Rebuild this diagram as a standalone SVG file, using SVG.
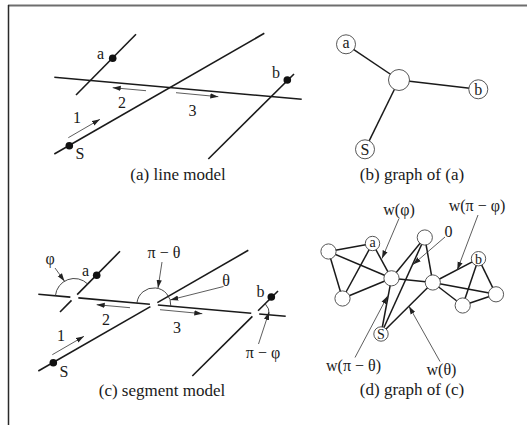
<svg xmlns="http://www.w3.org/2000/svg" width="527" height="425" viewBox="0 0 527 425">
<style>
text{font-family:"Liberation Serif","Times New Roman",serif;fill:#1a1a1a}
.cap{font-size:17px;text-anchor:middle}
.lbl{font-size:16px}
.nl{font-size:16px;text-anchor:middle}
.dl{font-size:14px;text-anchor:middle}
.ln{stroke:#1a1a1a;stroke-width:1.6;fill:none;stroke-linecap:butt}
.ed{stroke:#1a1a1a;stroke-width:1.5;fill:none}
.ar{stroke:#333;stroke-width:0.8;fill:none;marker-end:url(#ah)}
.arc{stroke:#333;stroke-width:0.9;fill:none}
.dot{fill:#111}
.nd{fill:#fff;stroke:#444;stroke-width:0.9}
</style>
<defs>
<marker id="ah" markerUnits="userSpaceOnUse" markerWidth="9" markerHeight="6" refX="8" refY="3" orient="auto">
<path d="M0,0.4 L8,3 L0,5.6 z" fill="#222"/>
</marker>
</defs>
<rect width="527" height="425" fill="#fff"/>
<g id="frame">
<line x1="8" y1="5.5" x2="527" y2="5.5" stroke="#6e6e6e" stroke-width="2"/>
<line x1="8.5" y1="5" x2="8.5" y2="425" stroke="#2a2a2a" stroke-width="1.5"/>
</g>

<!-- (a) line model -->
<g id="panel-a">
<g id="a-lines">
<line class="ln" x1="54.3" y1="77.3" x2="301.7" y2="99.3"/>
<line class="ln" x1="76" y1="95" x2="136" y2="34.3"/>
<line class="ln" x1="54.3" y1="154" x2="264.3" y2="33.3"/>
<line class="ln" x1="208.3" y1="159" x2="294" y2="74"/>
</g>
<g id="a-arrows">
<line class="ar" x1="68.3" y1="137.7" x2="100" y2="119.3"/>
<line class="ar" x1="146" y1="90.7" x2="112.7" y2="87.7"/>
<line class="ar" x1="176" y1="92.7" x2="218.3" y2="96.7"/>
</g>
<g id="a-dot-a"><circle class="dot" cx="112.7" cy="58.3" r="3.8"/><text class="lbl" x="97" y="58.5">a</text></g>
<g id="a-dot-S"><circle class="dot" cx="69.3" cy="145.7" r="3.8"/><text class="lbl" x="75.5" y="159">S</text></g>
<g id="a-dot-b"><circle class="dot" cx="287.3" cy="80" r="3.8"/><text class="lbl" x="272" y="78">b</text></g>
<text class="lbl" x="73" y="123">1</text>
<text class="lbl" x="118" y="107.5">2</text>
<text class="lbl" x="188.5" y="116">3</text>
<text class="cap" x="178" y="180">(a) line model</text>
</g>

<!-- (b) graph of (a) -->
<g id="panel-b">
<g id="b-edges">
<line class="ed" x1="346" y1="44.3" x2="399" y2="80"/>
<line class="ed" x1="399" y1="80" x2="478.3" y2="89.3"/>
<line class="ed" x1="399" y1="80" x2="365" y2="149.3"/>
</g>
<g id="b-node-a"><circle class="nd" cx="346" cy="44.3" r="9.5"/><text class="nl" x="346" y="48">a</text></g>
<g id="b-node-c"><circle class="nd" cx="399" cy="80" r="10.5"/></g>
<g id="b-node-b"><circle class="nd" cx="478.3" cy="89.3" r="9.5"/><text class="nl" x="478.3" y="94.5">b</text></g>
<g id="b-node-S"><circle class="nd" cx="365" cy="149.3" r="9.5"/><text class="nl" x="365" y="154.8">S</text></g>
<text class="cap" x="412" y="180">(b) graph of (a)</text>
</g>

<!-- (c) segment model -->
<g id="panel-c">
<g id="c-segments">
<line class="ln" x1="38.3" y1="294.3" x2="70.35" y2="297.15"/>
<line class="ln" x1="78.31" y1="297.85" x2="149.89" y2="304.23"/>
<line class="ln" x1="157.85" y1="304.93" x2="251.25" y2="313.24"/>
<line class="ln" x1="259.21" y1="313.94" x2="285.7" y2="316.3"/>
<line class="ln" x1="60" y1="312" x2="71.52" y2="300.34"/>
<line class="ln" x1="77.14" y1="294.66" x2="120" y2="251.3"/>
<line class="ln" x1="38.3" y1="371" x2="150.4" y2="306.57"/>
<line class="ln" x1="157.34" y1="302.59" x2="248.3" y2="250.3"/>
<line class="ln" x1="192.3" y1="376" x2="252.39" y2="316.41"/>
<line class="ln" x1="258.07" y1="310.77" x2="278" y2="291"/>
</g>
<g id="c-angles">
<path class="arc" d="M55.4,295.82 A19,19 0 0 1 87.69,283.99"/>
<path class="arc" d="M136.94,303.07 A17,17 0 0 1 170.8,306.09"/>
<path class="arc" d="M269.17,314.83 A14,14 0 0 0 265.17,303.73"/>
</g>
<g id="c-arrows">
<line class="ar" x1="52.3" y1="354.7" x2="84" y2="336.3"/>
<line class="ar" x1="130" y1="307.7" x2="96.7" y2="304.7"/>
<line class="ar" x1="160" y1="309.7" x2="202.3" y2="313.7"/>
<line class="ar" x1="55" y1="268" x2="64.5" y2="281.2"/>
<line class="ar" x1="162" y1="262" x2="158" y2="288"/>
<line class="ar" x1="223.5" y1="286.5" x2="170.3" y2="299.9"/>
<line class="ar" x1="258.5" y1="344" x2="269" y2="312"/>
</g>
<g id="c-dot-a"><circle class="dot" cx="96.7" cy="275.3" r="3.8"/><text class="lbl" x="82" y="276">a</text></g>
<g id="c-dot-S"><circle class="dot" cx="53.3" cy="362.7" r="3.8"/><text class="lbl" x="59.5" y="377">S</text></g>
<g id="c-dot-b"><circle class="dot" cx="271.3" cy="297" r="3.8"/><text class="lbl" x="256.5" y="297">b</text></g>
<text class="lbl" x="57" y="341">1</text>
<text class="lbl" x="102" y="325">2</text>
<text class="lbl" x="173" y="333">3</text>
<text class="lbl" x="50" y="264" text-anchor="middle">φ</text>
<text class="lbl" x="164" y="258" text-anchor="middle">π − θ</text>
<text class="lbl" x="226" y="285.5" text-anchor="middle">θ</text>
<text class="lbl" x="263" y="358" text-anchor="middle">π − φ</text>
<text class="cap" x="162" y="396">(c) segment model</text>
</g>

<!-- (d) graph of (c) -->
<g id="panel-d">
<g id="d-edges">
<line class="ed" x1="328.5" y1="251.5" x2="372.5" y2="243.5"/>
<line class="ed" x1="328.5" y1="251.5" x2="342.5" y2="298.5"/>
<line class="ed" x1="328.5" y1="251.5" x2="391.5" y2="278.3"/>
<line class="ed" x1="372.5" y1="243.5" x2="342.5" y2="298.5"/>
<line class="ed" x1="372.5" y1="243.5" x2="391.5" y2="278.3"/>
<line class="ed" x1="342.5" y1="298.5" x2="391.5" y2="278.3"/>
<line class="ed" x1="391.5" y1="278.3" x2="432.8" y2="282.5"/>
<line class="ed" x1="391.5" y1="278.3" x2="424.8" y2="237.5"/>
<line class="ed" x1="391.5" y1="278.3" x2="381" y2="334"/>
<line class="ed" x1="432.8" y1="282.5" x2="424.8" y2="237.5"/>
<line class="ed" x1="432.8" y1="282.5" x2="381" y2="334"/>
<line class="ed" x1="424.8" y1="237.5" x2="381" y2="334"/>
<line class="ed" x1="432.8" y1="282.5" x2="478.5" y2="258.7"/>
<line class="ed" x1="432.8" y1="282.5" x2="496" y2="294.3"/>
<line class="ed" x1="432.8" y1="282.5" x2="462.7" y2="305.5"/>
<line class="ed" x1="478.5" y1="258.7" x2="496" y2="294.3"/>
<line class="ed" x1="478.5" y1="258.7" x2="462.7" y2="305.5"/>
<line class="ed" x1="496" y1="294.3" x2="462.7" y2="305.5"/>
</g>
<g id="d-nodes">
<g id="d-n1"><circle class="nd" cx="328.5" cy="251.5" r="7.6"/></g>
<g id="d-a"><circle class="nd" cx="372.5" cy="243.5" r="7.2"/><text class="dl" x="372.5" y="247.2">a</text></g>
<g id="d-n3"><circle class="nd" cx="342.5" cy="298.5" r="7.6"/></g>
<g id="d-n4"><circle class="nd" cx="391.5" cy="278.3" r="7.6"/></g>
<g id="d-top"><circle class="nd" cx="424.8" cy="237.5" r="7.6"/></g>
<g id="d-n6"><circle class="nd" cx="432.8" cy="282.5" r="7.6"/></g>
<g id="d-r"><circle class="nd" cx="496" cy="294.3" r="7.6"/></g>
<g id="d-br"><circle class="nd" cx="462.7" cy="305.5" r="7.6"/></g>
<g id="d-b"><circle class="nd" cx="478.5" cy="258.7" r="7.2"/><text class="dl" x="478.5" y="263.5">b</text></g>
<g id="d-S"><circle class="nd" cx="381" cy="334" r="7.2"/><text class="dl" x="381" y="338.8">S</text></g>
</g>
<g id="d-arrows">
<line class="ar" x1="399" y1="218.5" x2="382" y2="258.5"/>
<line class="ar" x1="478" y1="215" x2="457.3" y2="269.8"/>
<line class="ar" x1="445" y1="237" x2="413" y2="264.5"/>
<line class="ar" x1="355" y1="357.5" x2="387.6" y2="296"/>
<line class="ar" x1="440" y1="361.5" x2="409" y2="306.3"/>
</g>
<text class="lbl" x="399" y="214.5" text-anchor="middle">w(φ)</text>
<text class="lbl" x="477" y="210.5" text-anchor="middle">w(π − φ)</text>
<text class="lbl" x="448.5" y="236.5" text-anchor="middle">0</text>
<text class="lbl" x="353.5" y="370.5" text-anchor="middle">w(π − θ)</text>
<text class="lbl" x="441.5" y="375" text-anchor="middle">w(θ)</text>
<text class="cap" x="412" y="395">(d) graph of (c)</text>
</g>
</svg>
